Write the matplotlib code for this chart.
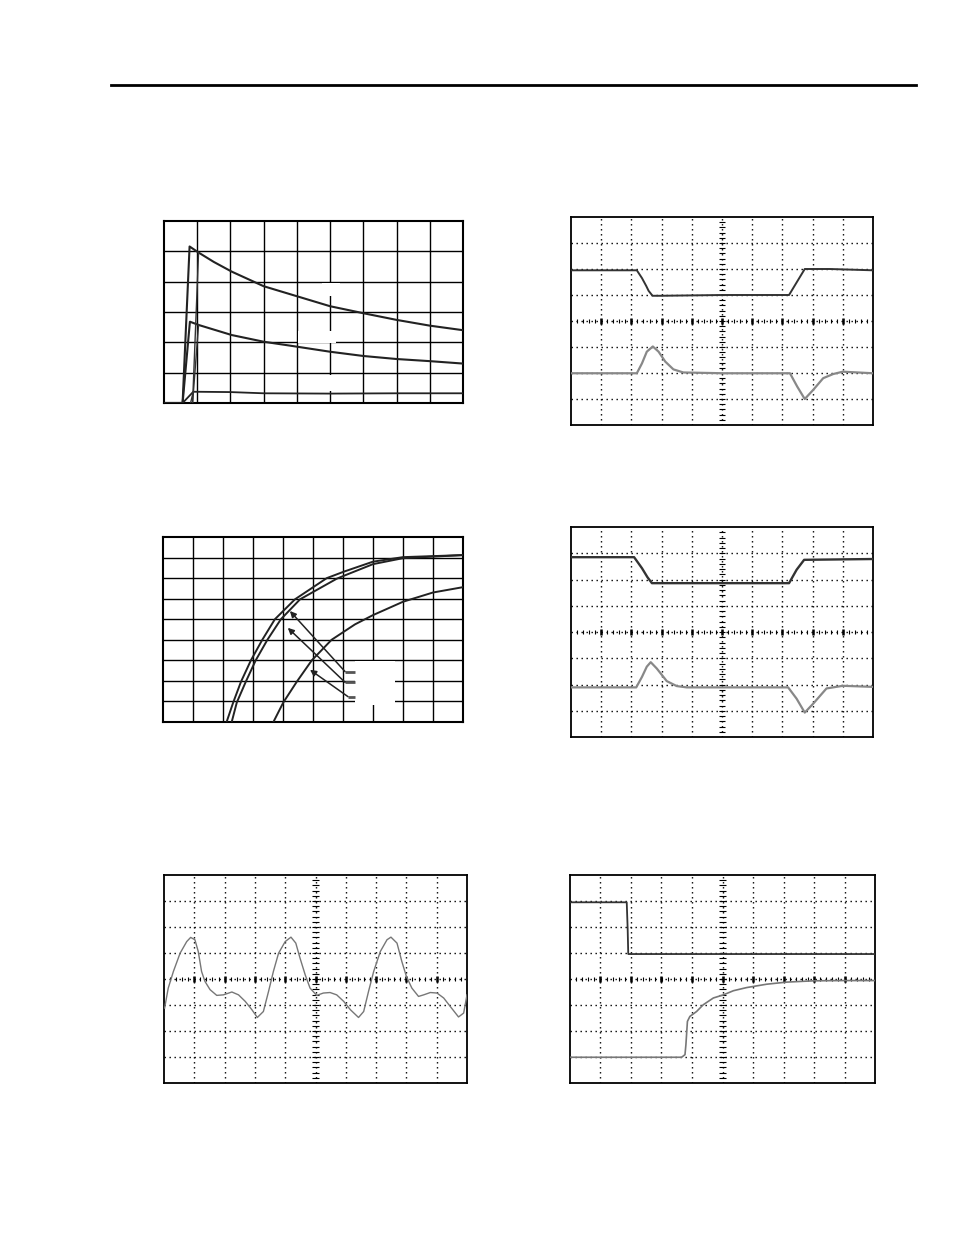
import numpy as np
import matplotlib.pyplot as plt
from matplotlib.lines import Line2D
from matplotlib.patches import Rectangle

# ---- panel 1 : three decaying curves (9 x 6 grid)
p1_top_x = [0, 0.56, 0.77, 1.04, 1.5, 2.04, 3, 4, 5, 6, 7, 8, 9]
p1_top_y = [0, 0, 5.16, 4.96, 4.65, 4.33, 3.85, 3.52, 3.19, 2.96, 2.74, 2.55, 2.40]
p1_mid_x = [0, 0.56, 0.78, 1.05, 2.04, 3, 3.8, 5, 6, 7, 8, 9]
p1_mid_y = [0, 0, 2.68, 2.57, 2.24, 2.02, 1.89, 1.69, 1.55, 1.45, 1.38, 1.30]
p1_low_x = [0, 0.56, 0.88, 1.04, 2, 3, 5, 7, 9]
p1_low_y = [0, 0, 0.37, 0.37, 0.36, 0.32, 0.31, 0.32, 0.32]
p1_rise_x = [0.86, 1.04]          # second edge of each ramp
p1_rise_top = [0, 4.96]
p1_rise_mid = [0, 2.57]
p1_rise_low = [0.80, 0.88]
p1_rise_low_y = [0, 0.37]

# ---- panel 3 : three rising curves (10 x 9 grid)
p3_a_x = [2.12, 2.34, 2.60, 2.93, 3.31, 3.73, 4.40, 5.46, 6.04, 6.40, 7.0, 8.0, 10.0]
p3_a_y = [0, 0.95, 1.96, 3.0, 4.0, 5.0, 5.97, 7.0, 7.32, 7.50, 7.80, 8.02, 8.12]
p3_b_x = [2.29, 2.46, 2.76, 3.09, 3.48, 3.93, 4.57, 5.79, 6.04, 6.40, 7.0, 8.0, 10.0]
p3_b_y = [0, 0.95, 1.96, 3.0, 4.0, 5.0, 5.97, 6.97, 7.12, 7.33, 7.68, 7.97, 8.12]
p3_c_x = [3.68, 4.01, 4.46, 4.96, 5.62, 6.40, 7.0, 8.0, 9.0, 10.0]
p3_c_y = [0, 0.95, 1.96, 3.0, 4.0, 4.75, 5.2, 5.85, 6.30, 6.56]
p3_arrow_head = [(4.23, 5.40), (4.16, 4.58), (4.90, 2.54)]
p3_arrow_tail = [(6.07, 2.45), (6.07, 1.93), (6.17, 1.23)]

# ---- panel 2 : scope, edge + derivative
p2_up_x = [0, 2.18, 2.35, 2.49, 2.57, 2.70, 2.95, 5.04, 7.22, 7.49, 7.74, 8.57, 10]
p2_up_y = [5.95, 5.95, 5.65, 5.35, 5.16, 4.97, 4.97, 5.0, 5.0, 5.52, 6.0, 6.0, 5.95]
p2_lo_x = [0, 2.18, 2.35, 2.51, 2.71, 2.90, 3.12, 3.39, 3.72, 5.04, 7.25, 7.49, 7.74,
           8.02, 8.35, 8.68, 9.0, 10]
p2_lo_y = [1.99, 1.99, 2.37, 2.82, 3.02, 2.82, 2.44, 2.14, 2.02, 1.99, 1.99, 1.48, 1.0,
           1.35, 1.80, 1.96, 2.05, 1.99]

# ---- panel 4 : scope, edge + derivative
p4_up_x = [0, 2.09, 2.35, 2.53, 2.68, 5.04, 7.22, 7.47, 7.72, 10]
p4_up_y = [6.85, 6.85, 6.43, 6.09, 5.86, 5.86, 5.86, 6.37, 6.75, 6.78]
p4_lo_x = [0, 2.16, 2.35, 2.51, 2.64, 2.84, 3.17, 3.50, 3.83, 7.19, 7.47, 7.74, 8.02,
           8.46, 9.0, 10]
p4_lo_y = [1.89, 1.89, 2.29, 2.68, 2.85, 2.61, 2.13, 1.94, 1.89, 1.89, 1.46, 0.93, 1.27,
           1.85, 1.95, 1.91]

# ---- panel 5 : scope, periodic waveform
p5_x = [0.02, 0.14, 0.31, 0.53, 0.75, 0.88, 1.02, 1.13, 1.24, 1.35, 1.52, 1.74, 1.96,
        2.24, 2.46, 2.68, 2.90, 3.08, 3.28, 3.45, 3.61, 3.78, 4.0, 4.19, 4.35, 4.49,
        4.66, 4.82, 5.04, 5.26, 5.48, 5.70, 5.93, 6.15, 6.42, 6.59, 6.75, 6.92, 7.14,
        7.36, 7.49, 7.69, 7.85, 8.0, 8.18, 8.40, 8.57, 8.79, 9.01, 9.23, 9.45, 9.72,
        9.89, 10.0]
p5_y = [2.88, 3.65, 4.29, 4.99, 5.44, 5.60, 5.51, 5.06, 4.29, 3.91, 3.59, 3.37, 3.39,
        3.50, 3.39, 3.14, 2.82, 2.52, 2.75, 3.52, 4.29, 4.99, 5.44, 5.61, 5.38, 4.80,
        4.16, 3.65, 3.37, 3.46, 3.48, 3.39, 3.14, 2.82, 2.52, 2.75, 3.52, 4.29, 5.06,
        5.51, 5.61, 5.38, 4.67, 4.10, 3.65, 3.33, 3.39, 3.48, 3.46, 3.27, 2.94, 2.54,
        2.69, 3.39]

# ---- panel 6 : scope, step + slow response
p6_up_x = [0, 1.86, 1.89, 1.91, 10]
p6_up_y = [6.95, 6.95, 5.95, 4.96, 4.96]
p6_lo_x = [0, 3.66, 3.77, 3.80, 3.85, 3.93, 4.15, 4.37, 4.70, 5.03, 5.36, 5.79, 6.45,
           7.10, 7.98, 8.96, 10]
p6_lo_y = [0.99, 0.99, 1.09, 1.47, 2.37, 2.56, 2.75, 3.01, 3.27, 3.39, 3.55, 3.67, 3.80,
           3.88, 3.93, 3.94, 3.94]

W, H = 954, 1235
fig = plt.figure(figsize=(W / 100, H / 100), dpi=100)
fig.patch.set_facecolor('white')

# header rule
fig.add_artist(Line2D([111 / W, 916 / W], [1 - 85 / H] * 2, color='black', lw=2))


def box(x0, y0, x1, y1):
    return fig.add_axes([x0 / W, 1 - y1 / H, (x1 - x0) / W, (y1 - y0) / H])


def grid_panel(ax, nx, ny):
    ax.set_xlim(0, nx)
    ax.set_ylim(0, ny)
    ax.set_xticks([])
    ax.set_yticks([])
    for v in range(1, nx):
        ax.axvline(v, color='black', lw=1.0, zorder=1)
    for v in range(1, ny):
        ax.axhline(v, color='black', lw=1.0, zorder=1)
    for s in ax.spines.values():
        s.set_linewidth(1.5)


def scope_panel(ax):
    ax.set_xlim(0, 10)
    ax.set_ylim(0, 8)
    ax.set_xticks([])
    ax.set_yticks([])
    dots = (0, (1, 2.6))
    for v in range(1, 10):
        ax.axvline(v, color='black', lw=1.0, ls=dots, zorder=1)
    for v in range(1, 8):
        ax.axhline(v, color='black', lw=1.0, ls=dots, zorder=1)
    tx = np.arange(0.2, 10, 0.2)
    ax.vlines(tx, 4 - 0.08, 4 + 0.08, color='black', lw=0.8, zorder=1)
    ax.vlines(np.arange(1, 10), 4 - 0.1, 4 + 0.1, color='black', lw=1.8, zorder=1)
    ty = np.arange(0.2, 8, 0.2)
    ax.hlines(ty, 5 - 0.1, 5 + 0.1, color='black', lw=0.8, zorder=1)
    for s in ax.spines.values():
        s.set_linewidth(1.3)


# panel 1
ax1 = box(164, 221, 463, 403)
grid_panel(ax1, 9, 6)
for (x0, x1, y0, y1) in [(4.02, 5.18, 1.98, 2.39), (4.75, 5.3, 3.53, 3.97),
                         (4.75, 5.3, 0.40, 0.92)]:
    ax1.add_patch(Rectangle((x0, y0), x1 - x0, y1 - y0, color='white', zorder=2, lw=0))
ax1.plot(p1_top_x, p1_top_y, color='#222222', lw=1.5, zorder=3)
ax1.plot(p1_mid_x, p1_mid_y, color='#222222', lw=1.5, zorder=3)
ax1.plot(p1_low_x, p1_low_y, color='#222222', lw=1.3, zorder=3)
ax1.plot(p1_rise_x, p1_rise_top, color='#333333', lw=1.0, zorder=3)
ax1.plot(p1_rise_x, p1_rise_mid, color='#333333', lw=1.0, zorder=3)
ax1.plot(p1_rise_low, p1_rise_low_y, color='#333333', lw=1.0, zorder=3)

# panel 3
ax3 = box(163, 537, 463, 722)
grid_panel(ax3, 10, 9)
ax3.add_patch(Rectangle((6.4, 0.82), 1.33, 2.13, color='white', zorder=2, lw=0))
ax3.plot(p3_a_x, p3_a_y, color='#222222', lw=1.4, zorder=3)
ax3.plot(p3_b_x, p3_b_y, color='#222222', lw=1.4, zorder=3)
ax3.plot(p3_c_x, p3_c_y, color='#222222', lw=1.4, zorder=3)
for (hx, hy), (tx_, ty_) in zip(p3_arrow_head, p3_arrow_tail):
    ax3.annotate('', xy=(hx, hy), xytext=(tx_, ty_), zorder=4,
                 arrowprops=dict(arrowstyle='-|>', color='#222222', lw=1.1,
                                 mutation_scale=9, shrinkA=0, shrinkB=0))
    ax3.plot([tx_, 6.4], [ty_, ty_], color='#555555', lw=2.0, zorder=4,
             solid_capstyle='butt')

# panel 2
ax2 = box(571, 217, 873, 425)
scope_panel(ax2)
ax2.plot(p2_up_x, p2_up_y, color='#333333', lw=1.4, zorder=3)
ax2.plot(p2_lo_x, p2_lo_y, color='#888888', lw=1.6, zorder=3)

# panel 4
ax4 = box(571, 527, 873, 737)
scope_panel(ax4)
ax4.plot(p4_up_x, p4_up_y, color='#333333', lw=1.7, zorder=3)
ax4.plot(p4_lo_x, p4_lo_y, color='#888888', lw=1.6, zorder=3)

# panel 5
ax5 = box(164, 875, 467, 1083)
scope_panel(ax5)
ax5.plot(p5_x, p5_y, color='#777777', lw=1.0, zorder=3)

# panel 6
ax6 = box(570, 875, 875, 1083)
scope_panel(ax6)
ax6.plot(p6_up_x, p6_up_y, color='#333333', lw=1.3, zorder=3)
ax6.plot(p6_lo_x, p6_lo_y, color='#777777', lw=1.2, zorder=3)

fig.savefig('out.png', dpi=100)
